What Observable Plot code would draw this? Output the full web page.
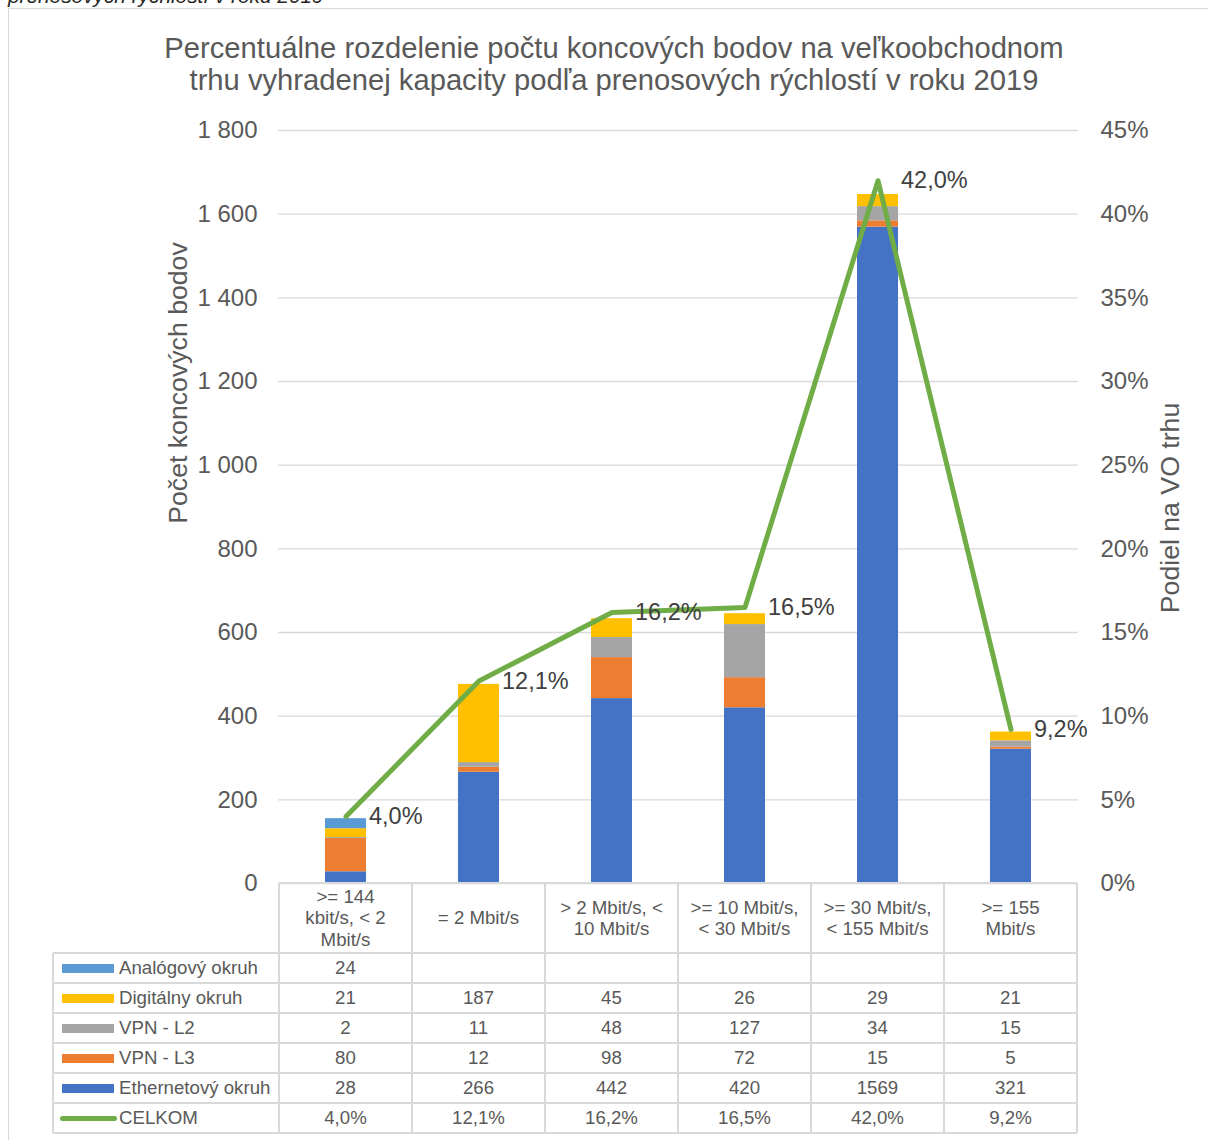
<!DOCTYPE html>
<html><head><meta charset="utf-8">
<script src="https://cdn.jsdelivr.net/npm/d3@7"></script>
<script src="https://cdn.jsdelivr.net/npm/@observablehq/plot@0.6"></script>
<style>
body{margin:0;background:#fff;}
#wrap{position:relative;width:1208px;height:1140px;overflow:hidden;font-family:"Liberation Sans",Arial,sans-serif;color:#595959;background:#fff;}
#wrap svg{position:absolute;left:0;top:0;}
.abs{position:absolute;}
</style></head><body><div id="wrap"></div>
<script>
// ---------- data ----------
const categories = [">= 144 kbit/s, < 2 Mbit/s", "= 2 Mbit/s", "> 2 Mbit/s, < 10 Mbit/s", ">= 10 Mbit/s, < 30 Mbit/s", ">= 30 Mbit/s, < 155 Mbit/s", ">= 155 Mbit/s"];
const headerLines = [[">= 144", "kbit/s, < 2", "Mbit/s"], ["= 2 Mbit/s"], ["> 2 Mbit/s, <", "10 Mbit/s"], [">= 10 Mbit/s,", "< 30 Mbit/s"], [">= 30 Mbit/s,", "< 155 Mbit/s"], [">= 155", "Mbit/s"]];
const seriesNames = ["Ethernetový okruh", "VPN - L3", "VPN - L2", "Digitálny okruh", "Analógový okruh"];
const seriesColors = ["#4472c4", "#ed7d31", "#a5a5a5", "#ffc000", "#5b9bd5"];
const ethernet = [28, 266, 442, 420, 1569, 321];
const vpnL3 = [80, 12, 98, 72, 15, 5];
const vpnL2 = [2, 11, 48, 127, 34, 15];
const digital = [21, 187, 45, 26, 29, 21];
const analog = [24, null, null, null, null, null];
const celkom = [4.0, 12.1, 16.2, 16.5, 42.0, 9.2];
const countTicks = [0, 200, 400, 600, 800, 1000, 1200, 1400, 1600, 1800];
const pctTicks = [0, 5, 10, 15, 20, 25, 30, 35, 40, 45];
const tableRowOrder = ["Analógový okruh", "Digitálny okruh", "VPN - L2", "VPN - L3", "Ethernetový okruh"];
const titleLines = ["Percentuálne rozdelenie počtu koncových bodov na veľkoobchodnom", "trhu vyhradenej kapacity podľa prenosových rýchlostí v roku 2019"];

// ---------- derived tables ----------
const seriesValues = [ethernet, vpnL3, vpnL2, digital, analog];
const barRows = [];
seriesNames.forEach((s, i) => categories.forEach((c, j) => {
  const v = seriesValues[i][j];
  if (v != null) barRows.push({category: c, series: s, value: v});
}));
const pctMax = pctTicks[pctTicks.length - 1], cntMax = countTicks[countTicks.length - 1];
const k = cntMax / pctMax;
const loc = d3.formatLocale({decimal: ",", thousands: " ", grouping: [3], currency: ["", ""]});
const fmtCount = loc.format(",");
const fmtPct = loc.format(".1f");
const lineRows = categories.map((c, j) => ({category: c, pct: celkom[j], scaled: celkom[j] * k, label: fmtPct(celkom[j]) + "%"}));

const FONT = "Liberation Sans, Arial, sans-serif";
const chart = Plot.plot({
  width: 1208, height: 890,
  marginTop: 130, marginBottom: 7, marginLeft: 278, marginRight: 130,
  style: {fontFamily: FONT, background: "transparent", overflow: "visible"},
  x: {domain: categories, paddingInner: 0.69, paddingOuter: 0.345, axis: null},
  y: {domain: [0, cntMax], axis: null},
  color: {domain: seriesNames, range: seriesColors},
  marks: [
    Plot.gridY(countTicks, {stroke: "#d9d9d9", strokeOpacity: 1, strokeWidth: 1.3}),
    Plot.barY(barRows, {x: "category", y: "value", fill: "series"}),
    Plot.line(lineRows, {x: "category", y: "scaled", stroke: "#70ad47", strokeWidth: 5, strokeLinejoin: "round", strokeLinecap: "round"}),
    Plot.text(lineRows, {x: "category", y: "scaled", text: "label", dx: 23, textAnchor: "start", fontSize: 23.5, fill: "#404040"}),
    Plot.axisY(countTicks, {anchor: "left", tickSize: 0, tickPadding: 21, tickFormat: fmtCount, fontSize: 24, color: "#595959", label: null}),
    Plot.axisY(countTicks, {anchor: "right", tickSize: 0, tickPadding: 22, tickFormat: d => (d / k) + "%", fontSize: 24, color: "#595959", label: null})
  ]
});
const wrap = document.getElementById("wrap");
wrap.appendChild(chart);

function box(left, top, width, height, html, css) {
  const d = document.createElement("div");
  d.className = "abs";
  Object.assign(d.style, {left: left + "px", top: top + "px", width: width + "px", height: height + "px"}, css || {});
  if (html != null) d.innerHTML = html;
  wrap.appendChild(d);
  return d;
}
const esc = s => s.replace(/&/g, "&amp;").replace(/</g, "&lt;").replace(/>/g, "&gt;");

// top cropped caption (cut off at the top edge, as in the reference)
box(8, -14, 700, 22, esc("prenosových rýchlostí v roku 2019"), {fontStyle: "italic", fontSize: "20.8px", lineHeight: "20.8px", color: "#262626", whiteSpace: "nowrap"});
// outer frame (left and top)
box(8, 8, 1200, 1.3, null, {background: "#d9d9d9"});
box(8, 8, 1.3, 1132, null, {background: "#d9d9d9"});

// title
box(14, 32, 1200, 64, titleLines.map(esc).join("<br>"), {textAlign: "center", fontSize: "29.2px", lineHeight: "32px", color: "#595959", whiteSpace: "nowrap"});

// axis titles
function rotated(cx, cy, text) {
  return box(cx, cy, null, null, esc(text), {fontSize: "26.67px", color: "#595959", whiteSpace: "nowrap", transform: "translate(-50%,-50%) rotate(-90deg)", width: "auto", height: "auto", lineHeight: "30px"});
}
rotated(178, 383, "Počet koncových bodov");
rotated(1170, 508, "Podiel na VO trhu");

// ---------- data table ----------
const xs = chart.scale("x");
const step = xs.step, bw = xs.bandwidth;
const colLeft = categories.map(c => xs.apply(c) + bw / 2 - step / 2);
const tableTop = 883;
const headerH = 70, rowH = 30;
const legendLeft = 53;
const plotLeft = colLeft[0], plotRight = colLeft[colLeft.length - 1] + step;
const lineColor = "#d9d9d9", lw = 2;
const cellFont = {fontSize: "18.67px", color: "#595959", textAlign: "center", whiteSpace: "nowrap"};

// header cells
categories.forEach((c, j) => {
  box(colLeft[j], tableTop, step, headerH, headerLines[j].map(esc).join("<br>"), Object.assign({}, cellFont, {lineHeight: "21.5px", display: "flex", alignItems: "center", justifyContent: "center"}));
});
// rows
const rowData = {
  "Analógový okruh": analog, "Digitálny okruh": digital, "VPN - L2": vpnL2, "VPN - L3": vpnL3, "Ethernetový okruh": ethernet
};
const allRows = tableRowOrder.map(n => ({name: n, values: rowData[n].map(v => v == null ? "" : String(v)), color: seriesColors[seriesNames.indexOf(n)], type: "rect"}));
allRows.push({name: "CELKOM", values: lineRows.map(d => d.label), color: "#70ad47", type: "line"});

allRows.forEach((r, i) => {
  const top = tableTop + headerH + i * rowH;
  if (r.type === "rect") {
    box(62, top + rowH / 2 - 4.5, 52, 9, null, {background: r.color});
  } else {
    box(60, top + rowH / 2 - 2.5, 57, 5, null, {background: r.color, borderRadius: "3px"});
  }
  box(119, top, 160, rowH, esc(r.name), Object.assign({}, cellFont, {textAlign: "left", lineHeight: rowH + "px"}));
  r.values.forEach((v, j) => {
    box(colLeft[j], top, step, rowH, esc(v), Object.assign({}, cellFont, {lineHeight: rowH + "px"}));
  });
});

// table grid lines
const tableBottom = tableTop + headerH + allRows.length * rowH;
box(plotLeft, tableTop - lw / 2, plotRight - plotLeft, lw, null, {background: lineColor});
for (let i = 0; i <= allRows.length; i++) {
  const y = tableTop + headerH + i * rowH;
  box(legendLeft, y - lw / 2, plotRight - legendLeft, lw, null, {background: lineColor});
}
colLeft.concat([plotRight]).forEach(x => {
  box(x - lw / 2, tableTop, lw, tableBottom - tableTop, null, {background: lineColor});
});
box(legendLeft - lw / 2, tableTop + headerH, lw, tableBottom - tableTop - headerH, null, {background: lineColor});
</script></body></html>
